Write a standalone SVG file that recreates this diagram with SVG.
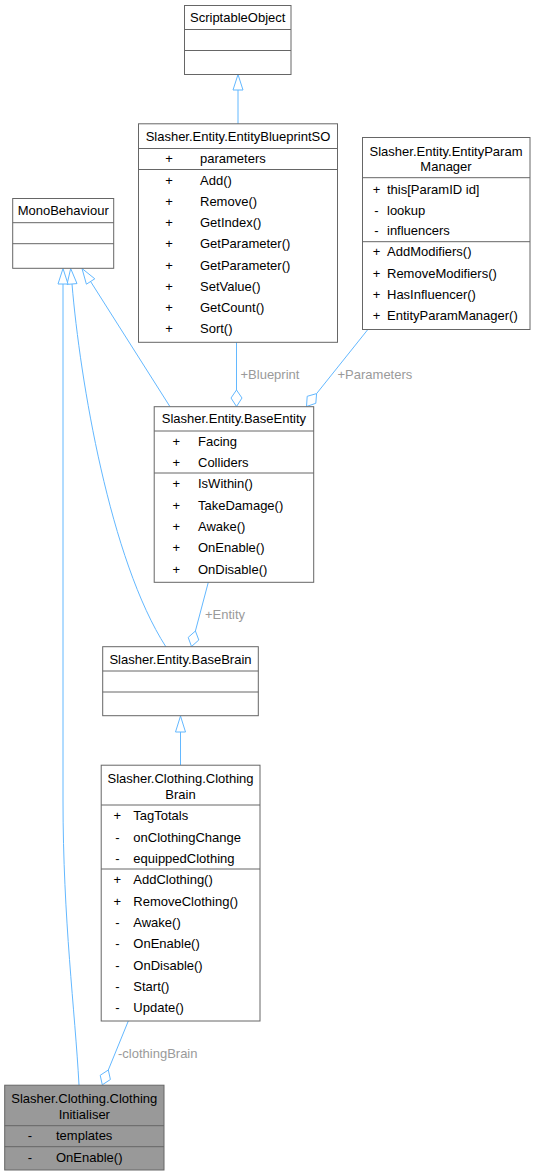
<svg xmlns="http://www.w3.org/2000/svg" width="535" height="1176" viewBox="0 0 535 1176">
<style>
.bg{fill:#ffffff}
.box{fill:#ffffff;stroke:#666666;stroke-width:1}
.hl{fill:#999999;stroke:#666666;stroke-width:1}
.sep{stroke:#666666;stroke-width:1}
.t{font-family:"Liberation Sans",Arial,Helvetica,sans-serif;font-size:13px;fill:#000000}
.c{text-anchor:middle}
.e{fill:none;stroke:#63B8FF;stroke-width:1}
.ah{fill:#ffffff;stroke:#63B8FF;stroke-width:1}
.lbl{font-family:"Liberation Sans",Arial,Helvetica,sans-serif;font-size:13px;fill:#9A9A9A}
</style>
<rect class="bg" x="0" y="0" width="535" height="1176"/>

<g id="connectors">
  <!-- EntityBlueprintSO -> ScriptableObject -->
  <path class="e" d="M238,90 L238,124"/>
  <polygon class="ah" points="238,74.5 243,90 233,90"/>
  <!-- BaseEntity -> MonoBehaviour -->
  <path class="e" d="M170,406.7 L90.6,281.5"/>
  <polygon class="ah" points="82,268.5 94.8,278.8 86.4,284.2"/>
  <!-- BaseBrain -> MonoBehaviour -->
  <path class="e" d="M72,284 C80,380 110,560 166,647"/>
  <polygon class="ah" points="70.7,268.5 77,283.6 67,284.4"/>
  <!-- ClothingInitialiser -> MonoBehaviour -->
  <path class="e" d="M63,284 L63,800 C63,920 75,1010 79,1085"/>
  <polygon class="ah" points="63,268.5 68,284 58,284"/>
  <!-- ClothingBrain -> BaseBrain -->
  <path class="e" d="M180.5,732 L180.5,765"/>
  <polygon class="ah" points="180.5,716 185.5,732 175.5,732"/>
  <!-- Blueprint aggregation -->
  <path class="e" d="M236.5,342.3 L236.5,390"/>
  <polygon class="ah" points="236.5,390 242,398 236.5,406.5 231,398"/>
  <text class="lbl" x="240.5" y="378.5">+Blueprint</text>
  <!-- Parameters aggregation -->
  <path class="e" d="M368,329.3 L316.6,393.6"/>
  <polygon class="ah" points="316.6,393.6 315.8,403.3 306.5,406.5 307.2,396.3"/>
  <text class="lbl" x="337.5" y="378.5">+Parameters</text>
  <!-- Entity aggregation -->
  <path class="e" d="M208.3,582.3 L195.4,631"/>
  <polygon class="ah" points="195.4,631 198.8,640 191.5,646.5 188.2,637.4"/>
  <text class="lbl" x="205" y="618.5">+Entity</text>
  <!-- clothingBrain aggregation -->
  <path class="e" d="M128.3,1021 L108.3,1070"/>
  <polygon class="ah" points="108.3,1070 110.4,1079.5 102.3,1084.8 100.2,1075.3"/>
  <text class="lbl" x="118" y="1057.5">-clothingBrain</text>
</g>

<g id="ScriptableObject">
  <rect class="box" x="184.5" y="5.5" width="106.5" height="69"/>
  <line class="sep" x1="184.5" y1="29.5" x2="291" y2="29.5"/>
  <line class="sep" x1="184.5" y1="50.5" x2="291" y2="50.5"/>
  <text class="t c" x="237.7" y="21.7">ScriptableObject</text>
</g>

<g id="EntityBlueprintSO">
  <rect class="box" x="138.5" y="123.8" width="199" height="218.5"/>
  <line class="sep" x1="138.5" y1="148.5" x2="337.5" y2="148.5"/>
  <line class="sep" x1="138.5" y1="169.5" x2="337.5" y2="169.5"/>
  <text class="t c" x="238" y="140.5">Slasher.Entity.EntityBlueprintSO</text>
  <g class="t">
    <text x="169" y="163.3" class="c">+</text><text x="200" y="163.3">parameters</text>
    <text x="169" y="184.5" class="c">+</text><text x="200" y="184.5">Add()</text>
    <text x="169" y="205.8" class="c">+</text><text x="200" y="205.8">Remove()</text>
    <text x="169" y="227.1" class="c">+</text><text x="200" y="227.1">GetIndex()</text>
    <text x="169" y="248.4" class="c">+</text><text x="200" y="248.4">GetParameter()</text>
    <text x="169" y="269.7" class="c">+</text><text x="200" y="269.7">GetParameter()</text>
    <text x="169" y="291" class="c">+</text><text x="200" y="291">SetValue()</text>
    <text x="169" y="312.3" class="c">+</text><text x="200" y="312.3">GetCount()</text>
    <text x="169" y="333.3" class="c">+</text><text x="200" y="333.3">Sort()</text>
  </g>
</g>

<g id="EntityParamManager">
  <rect class="box" x="362.5" y="137.5" width="167.5" height="192"/>
  <line class="sep" x1="362.5" y1="177.7" x2="530" y2="177.7"/>
  <line class="sep" x1="362.5" y1="241.7" x2="530" y2="241.7"/>
  <text class="t c" x="446" y="156.2">Slasher.Entity.EntityParam</text>
  <text class="t c" x="446" y="170.5">Manager</text>
  <g class="t">
    <text x="376.5" y="193.5" class="c">+</text><text x="387" y="193.5">this[ParamID id]</text>
    <text x="376.5" y="214.5" class="c">-</text><text x="387" y="214.5">lookup</text>
    <text x="376.5" y="234.8" class="c">-</text><text x="387" y="234.8">influencers</text>
    <text x="376.5" y="256.2" class="c">+</text><text x="387" y="256.2">AddModifiers()</text>
    <text x="376.5" y="278.3" class="c">+</text><text x="387" y="278.3">RemoveModifiers()</text>
    <text x="376.5" y="298.8" class="c">+</text><text x="387" y="298.8">HasInfluencer()</text>
    <text x="376.5" y="319.5" class="c">+</text><text x="387" y="319.5">EntityParamManager()</text>
  </g>
</g>

<g id="MonoBehaviour">
  <rect class="box" x="12.7" y="198.5" width="101" height="69.8"/>
  <line class="sep" x1="12.7" y1="222.7" x2="113.7" y2="222.7"/>
  <line class="sep" x1="12.7" y1="243.7" x2="113.7" y2="243.7"/>
  <text class="t c" x="63.2" y="215">MonoBehaviour</text>
</g>

<g id="BaseEntity">
  <rect class="box" x="154.2" y="406.7" width="159.5" height="175.6"/>
  <line class="sep" x1="154.2" y1="431" x2="313.7" y2="431"/>
  <line class="sep" x1="154.2" y1="473" x2="313.7" y2="473"/>
  <text class="t c" x="233.9" y="423.3">Slasher.Entity.BaseEntity</text>
  <g class="t">
    <text x="176.3" y="446" class="c">+</text><text x="198" y="446">Facing</text>
    <text x="176.3" y="466.8" class="c">+</text><text x="198" y="466.8">Colliders</text>
    <text x="176.3" y="488.2" class="c">+</text><text x="198" y="488.2">IsWithin()</text>
    <text x="176.3" y="509.8" class="c">+</text><text x="198" y="509.8">TakeDamage()</text>
    <text x="176.3" y="530.8" class="c">+</text><text x="198" y="530.8">Awake()</text>
    <text x="176.3" y="551.5" class="c">+</text><text x="198" y="551.5">OnEnable()</text>
    <text x="176.3" y="573.5" class="c">+</text><text x="198" y="573.5">OnDisable()</text>
  </g>
</g>

<g id="BaseBrain">
  <rect class="box" x="102.7" y="646.7" width="155.6" height="69"/>
  <line class="sep" x1="102.7" y1="671" x2="258.3" y2="671"/>
  <line class="sep" x1="102.7" y1="692" x2="258.3" y2="692"/>
  <text class="t c" x="180.5" y="663.8">Slasher.Entity.BaseBrain</text>
</g>

<g id="ClothingBrain">
  <rect class="box" x="101.2" y="765.2" width="158.8" height="255.8"/>
  <line class="sep" x1="101.2" y1="805" x2="260" y2="805"/>
  <line class="sep" x1="101.2" y1="869" x2="260" y2="869"/>
  <text class="t c" x="180.5" y="782.8">Slasher.Clothing.Clothing</text>
  <text class="t c" x="180.5" y="799.2">Brain</text>
  <g class="t">
    <text x="117.3" y="819.5" class="c">+</text><text x="133.3" y="819.5">TagTotals</text>
    <text x="117.3" y="842" class="c">-</text><text x="133.3" y="842">onClothingChange</text>
    <text x="117.3" y="863" class="c">-</text><text x="133.3" y="863">equippedClothing</text>
    <text x="117.3" y="884.2" class="c">+</text><text x="133.3" y="884.2">AddClothing()</text>
    <text x="117.3" y="906.2" class="c">+</text><text x="133.3" y="906.2">RemoveClothing()</text>
    <text x="117.3" y="927.2" class="c">-</text><text x="133.3" y="927.2">Awake()</text>
    <text x="117.3" y="947.8" class="c">-</text><text x="133.3" y="947.8">OnEnable()</text>
    <text x="117.3" y="970.2" class="c">-</text><text x="133.3" y="970.2">OnDisable()</text>
    <text x="117.3" y="991.2" class="c">-</text><text x="133.3" y="991.2">Start()</text>
    <text x="117.3" y="1011.5" class="c">-</text><text x="133.3" y="1011.5">Update()</text>
  </g>
</g>

<g id="ClothingInitialiser">
  <rect class="hl" x="4.7" y="1085.2" width="159.3" height="84.8"/>
  <line class="sep" x1="4.7" y1="1125.7" x2="164" y2="1125.7"/>
  <line class="sep" x1="4.7" y1="1146.7" x2="164" y2="1146.7"/>
  <text class="t c" x="84.3" y="1102.8">Slasher.Clothing.Clothing</text>
  <text class="t c" x="84.3" y="1118.8">Initialiser</text>
  <g class="t">
    <text x="30" y="1140.2" class="c">-</text><text x="56" y="1140.2">templates</text>
    <text x="30" y="1161.8" class="c">-</text><text x="56" y="1161.8">OnEnable()</text>
  </g>
</g>
</svg>
